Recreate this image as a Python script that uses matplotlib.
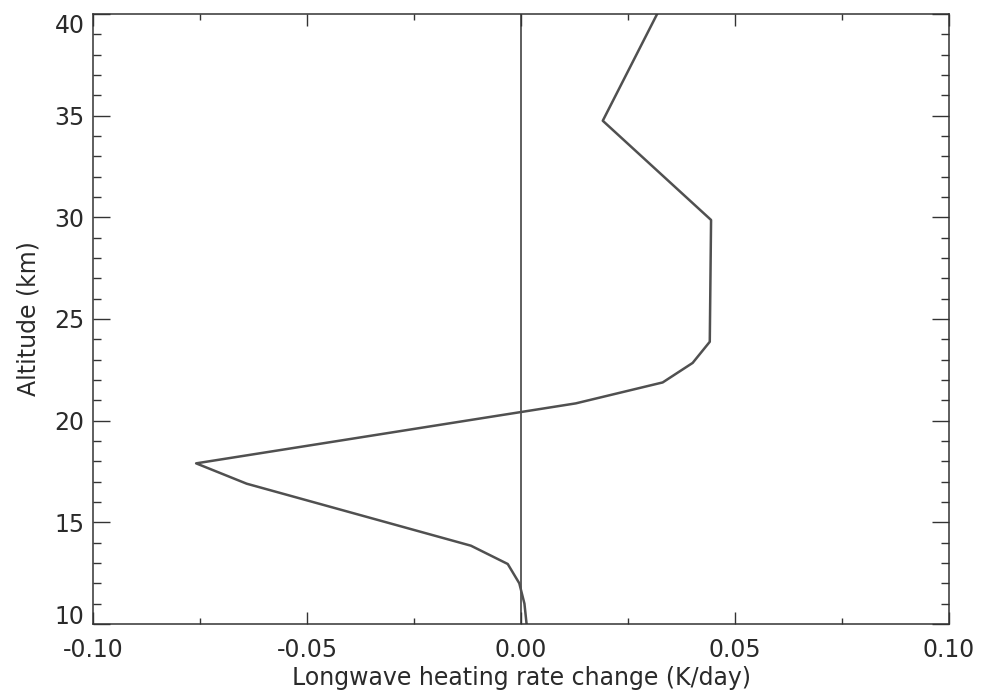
import matplotlib
matplotlib.use("Agg")
import matplotlib.pyplot as plt
from matplotlib.ticker import MultipleLocator, FormatStrFormatter

# longwave heating rate change profile (K/day) against altitude (km)
altitude = [10.0, 11.0, 12.0, 12.95, 13.85, 16.9, 17.9, 20.85, 21.88,
            22.84, 23.88, 29.87, 34.75, 40.0]
heating_change = [0.0013, 0.0008, -0.0004, -0.0031, -0.0117, -0.0641, -0.0759,
                  0.0128, 0.0331, 0.0401, 0.0441, 0.0444, 0.0191, 0.0318]

x_ticks = [-0.10, -0.05, 0.00, 0.05, 0.10]
y_ticks = [10, 15, 20, 25, 30, 35, 40]

plt.rcParams["font.family"] = "DejaVu Sans"
plt.rcParams["axes.unicode_minus"] = False

ink = "#2a2a2a"

fig = plt.figure(figsize=(9.85, 7.0), dpi=100)
ax = fig.add_axes([0.0944, 0.1086, 0.8691, 0.8714])

ax.axvline(0.0, color="#333333", linewidth=1.1)
ax.plot(heating_change, altitude, color="#505050", linewidth=1.8)

ax.set_xlim(-0.10, 0.10)
ax.set_ylim(10, 40)
ax.set_xticks(x_ticks)
ax.set_yticks(y_ticks)
ax.xaxis.set_major_formatter(FormatStrFormatter("%.2f"))
ax.xaxis.set_minor_locator(MultipleLocator(0.025))
ax.yaxis.set_minor_locator(MultipleLocator(1))

for side in ax.spines.values():
    side.set_color("#333333")
    side.set_linewidth(1.1)

ax.tick_params(axis="both", which="both", direction="in", top=True, right=True,
               color="#333333", width=1.0, labelcolor=ink, labelsize=17)
ax.tick_params(axis="x", which="major", length=8.6, pad=10)
ax.tick_params(axis="x", which="minor", length=4.3)
ax.tick_params(axis="y", which="major", length=12.2, pad=6)
ax.tick_params(axis="y", which="minor", length=6.1)

# keep the end labels of the altitude axis inside the frame
ylabels = ax.get_yticklabels()
ylabels[0].set_verticalalignment("baseline")
ylabels[-1].set_verticalalignment("top")

ax.set_xlabel("Longwave heating rate change (K/day)", fontsize=17, color=ink, labelpad=3)
ax.set_ylabel("Altitude (km)", fontsize=17, color=ink, labelpad=10)

fig.savefig("out.png", dpi=100)
plt.close(fig)
